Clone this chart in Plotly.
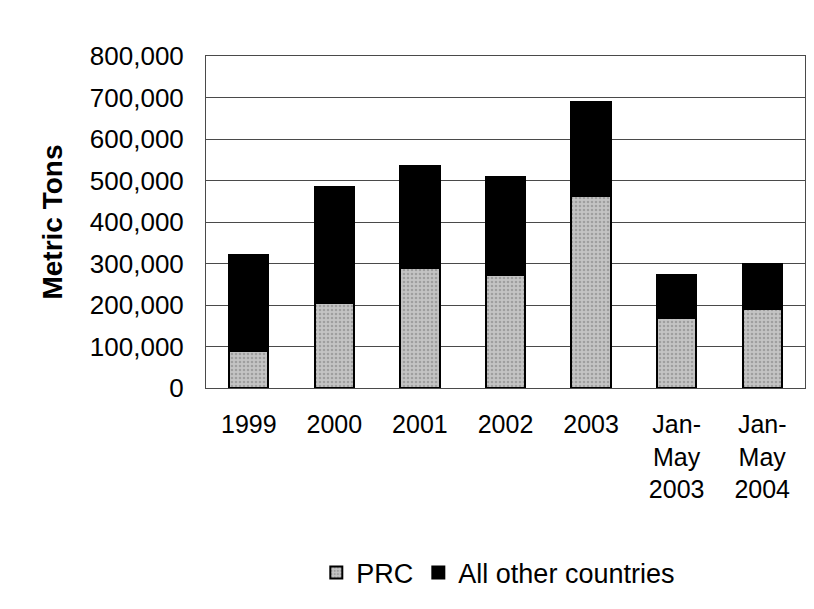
import plotly.graph_objects as go

categories = ["1999", "2000", "2001", "2002", "2003", "Jan-<br>May<br>2003", "Jan-<br>May<br>2004"]
prc = [88000, 206000, 289000, 272000, 462000, 169000, 190000]
totals = [320000, 485000, 535000, 509000, 690000, 272000, 299000]
other = [t - p for t, p in zip(totals, prc)]
y_ticks = [0, 100000, 200000, 300000, 400000, 500000, 600000, 700000, 800000]

font = "Liberation Sans, Arial, sans-serif"

fig = go.Figure()
fig.add_trace(go.Bar(
    x=categories, y=prc, name="PRC",
    marker=dict(color="#c4c4c4", line=dict(color="black", width=2),
                pattern=dict(shape=".", fgcolor="#7a7a7a", bgcolor="#c4c4c4", size=4, solidity=0.35)),
))
fig.add_trace(go.Bar(
    x=categories, y=other, name="All other countries",
    marker=dict(color="black", line=dict(color="black", width=2)),
))

fig.update_layout(
    barmode="stack",
    bargap=0.54,
    width=798, height=593,
    margin=dict(l=198, r=1, t=48, b=213),
    paper_bgcolor="white", plot_bgcolor="white",
    font=dict(family=font, size=25, color="black"),
    showlegend=True,
    legend=dict(orientation="h", x=0.488, xanchor="center", y=-0.557, yanchor="middle",
                font=dict(size=27), traceorder="normal", itemwidth=30, tracegroupgap=0),
)
fig.update_yaxes(
    range=[0, 800000], tickvals=y_ticks, tickformat=",d",
    tickfont=dict(size=26),
    showgrid=True, gridcolor="#4a4a4a", gridwidth=1,
    showline=True, linecolor="#4a4a4a", linewidth=1, mirror=True,
    ticks="", ticklabelstandoff=16,
    title=dict(text="<b>Metric Tons</b>", font=dict(size=28), standoff=19),
    zeroline=False,
)
fig.update_xaxes(
    showline=True, linecolor="#4a4a4a", linewidth=1, mirror=True,
    ticks="", ticklabelstandoff=14, tickfont=dict(size=25),
)

fig.write_html("out.html")
